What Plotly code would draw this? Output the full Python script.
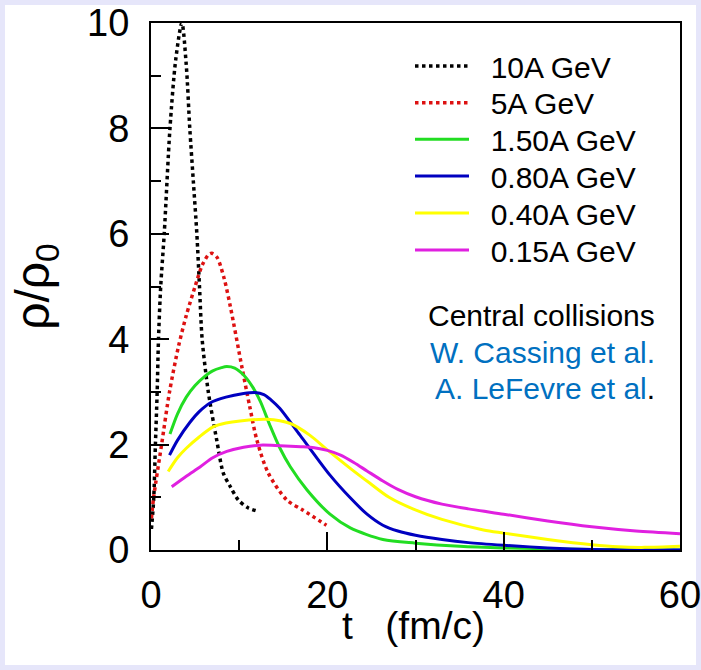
import plotly.graph_objects as go

# ---------------- data ----------------
t_10 = [0.05, 0.3, 0.5, 0.7, 0.85, 1.1, 1.5, 2.15, 2.8, 3.5, 4.0, 4.4, 4.8, 5.2, 5.5, 5.8, 6.5, 7.45, 8.2, 9.0, 9.9, 11.0, 12.0]
r_10 = [0.4, 0.95, 2.0, 3.0, 4.0, 5.0, 6.0, 8.0, 9.3, 10.0, 9.2, 8.0, 7.0, 6.0, 5.0, 4.0, 3.0, 2.09, 1.46, 1.2, 0.95, 0.8, 0.74]

t_5 = [0.05, 0.3, 1.2, 2.1, 3.1, 4.0, 5.0, 5.8, 6.5, 6.9, 7.5, 8.3, 9.0, 10.3, 11.2, 12.0, 13.3, 15.4, 17.2, 19.9]
r_5 = [0.6, 1.0, 2.0, 3.0, 3.85, 4.45, 5.0, 5.4, 5.6, 5.63, 5.55, 5.15, 4.62, 3.48, 2.72, 2.09, 1.46, 0.95, 0.76, 0.47]

t_150 = [2.15, 3.0, 4.0, 5.0, 6.0, 7.0, 8.0, 8.6, 9.5, 10.5, 11.5, 12.4, 13.5, 14.6, 15.8, 17.7, 20.3, 22.6, 26.3, 30.0, 35.0, 40.0, 50.0, 60.0]
r_150 = [2.2, 2.58, 2.9, 3.12, 3.28, 3.4, 3.46, 3.48, 3.45, 3.32, 3.1, 2.82, 2.36, 1.94, 1.58, 1.14, 0.68, 0.42, 0.2, 0.13, 0.07, 0.04, 0.01, 0.0]

t_080 = [2.1, 3.0, 4.4, 5.5, 6.7, 8.5, 10.5, 11.8, 12.8, 13.6, 14.6, 16.9, 20.3, 22.6, 24.5, 26.3, 28.0, 30.0, 33.0, 36.0, 40.0, 45.0, 50.0, 60.0]
r_080 = [1.8, 2.08, 2.42, 2.63, 2.79, 2.9, 2.97, 2.99, 2.95, 2.85, 2.69, 2.18, 1.42, 0.99, 0.68, 0.47, 0.36, 0.28, 0.2, 0.14, 0.09, 0.04, 0.01, 0.0]

t_040 = [1.95, 3.0, 4.0, 5.5, 7.1, 8.5, 10.1, 13.1, 15.8, 18.0, 20.0, 22.6, 24.8, 27.0, 29.7, 33.0, 37.7, 40.0, 45.0, 50.0, 53.0, 56.0, 60.0]
r_040 = [1.49, 1.75, 1.93, 2.15, 2.34, 2.41, 2.45, 2.48, 2.40, 2.18, 1.9, 1.55, 1.27, 1.0, 0.78, 0.58, 0.38, 0.32, 0.2, 0.1, 0.06, 0.05, 0.07]

t_015 = [2.35, 4.0, 5.6, 7.0, 8.6, 10.5, 12.4, 14.6, 17.0, 18.5, 20.0, 21.5, 23.0, 24.5, 26.3, 28.0, 30.0, 33.0, 36.0, 40.0, 45.0, 50.0, 55.0, 60.0]
r_015 = [1.2, 1.4, 1.58, 1.75, 1.87, 1.95, 1.99, 1.98, 1.96, 1.94, 1.89, 1.8, 1.66, 1.5, 1.31, 1.15, 1.01, 0.87, 0.78, 0.68, 0.55, 0.44, 0.36, 0.31]

names = ["10A GeV", "5A GeV", "1.50A GeV", "0.80A GeV", "0.40A GeV", "0.15A GeV"]
colors = ["#000000", "#DD1111", "#22DD22", "#0000C0", "#FFFF00", "#E020E0"]
dashes = ["dot", "dot", "solid", "solid", "solid", "solid"]
series = [(t_10, r_10), (t_5, r_5), (t_150, r_150), (t_080, r_080), (t_040, r_040), (t_015, r_015)]

x_ticks = [0, 20, 40, 60]
y_ticks = [0, 2, 4, 6, 8, 10]

FONT = "Liberation Sans, Arial, Helvetica, sans-serif"

W, H = 701, 670
L, R, T, B = 151, 21, 23, 120
pw, ph = W - L - R, H - T - B


def px_x(p):
    return (p - L) / pw


def px_y(p):
    return (H - B - p) / ph


legend_centers = [66, 102.7, 139.3, 176, 213, 250]
PAD = "\u00a0\u00a0"

fig = go.Figure()
legend_layouts = {}
for i, ((tx, ry), nm, c, d) in enumerate(zip(series, names, colors, dashes)):
    lg = "legend" if i == 0 else f"legend{i + 1}"
    dotted = d == "dot"
    fig.add_trace(go.Scatter(
        x=tx, y=ry, name=PAD + nm, mode="lines", legend=lg,
        line=dict(color=c, width=(3.5 if dotted else 3), dash=("3.5px,3.5px" if dotted else "solid"),
                  shape="spline", smoothing=0.8),
    ))
    legend_layouts[lg] = dict(
        x=px_x(410), y=px_y(legend_centers[i]), xanchor="left", yanchor="middle",
        bgcolor="rgba(0,0,0,0)", borderwidth=0, itemwidth=54,
        font=dict(family=FONT, size=30, color="black"),
    )

fig.add_shape(type="rect", xref="paper", yref="paper",
              x0=px_x(5), x1=px_x(696), y0=px_y(665), y1=px_y(5),
              fillcolor="white", line=dict(width=0), layer="below")

axis_common = dict(
    showgrid=False, zeroline=False, showline=True, linecolor="black", linewidth=2,
    mirror=True, ticks="inside", ticklen=18, tickwidth=2, tickcolor="black",
    ticklabeloverflow="allow",
    tickfont=dict(family=FONT, size=38, color="black"),
)

fig.update_xaxes(range=[0, 60], tickvals=x_ticks, ticktext=[str(v) for v in x_ticks],
                 minor=dict(tickvals=[10, 30, 50], ticks="inside", ticklen=10, tickwidth=2, tickcolor="black"),
                 ticklabelstandoff=10,
                 **axis_common)
fig.update_yaxes(range=[0, 10], tickvals=y_ticks, ticktext=[str(v) for v in y_ticks],
                 minor=dict(tickvals=[1, 3, 5, 7, 9], ticks="inside", ticklen=10, tickwidth=2, tickcolor="black"),
                 ticklabelstandoff=12,
                 title=dict(text="\u03c1/\u03c1<sub>0</sub>", font=dict(family=FONT, size=48, color="black"), standoff=22),
                 **axis_common)

# x-axis title
fig.add_annotation(
    xref="paper", yref="paper", x=px_x(413), y=px_y(625), xanchor="center", yanchor="middle",
    showarrow=False, text="t\u00a0\u00a0\u00a0(fm/c)",
    font=dict(family=FONT, size=39, color="black"),
)

note_lines = [
    ("Central collisions", 315),
    ("<span style='color:#0070C0'>W. Cassing et al.</span>", 352),
    ("<span style='color:#0070C0'>A. LeFevre et al</span>.", 388),
]
for txt, yc in note_lines:
    fig.add_annotation(
        xref="paper", yref="paper", x=px_x(657), y=px_y(yc), xanchor="right", yanchor="middle",
        align="right", showarrow=False, text=txt,
        font=dict(family=FONT, size=30, color="black"),
    )

fig.update_layout(
    width=W, height=H,
    margin=dict(l=L, r=R, t=T, b=B, autoexpand=False),
    paper_bgcolor="#E6E6FA", plot_bgcolor="white",
    showlegend=True,
    font=dict(family=FONT, color="black"),
    **legend_layouts,
)

fig.write_html("out.html")
